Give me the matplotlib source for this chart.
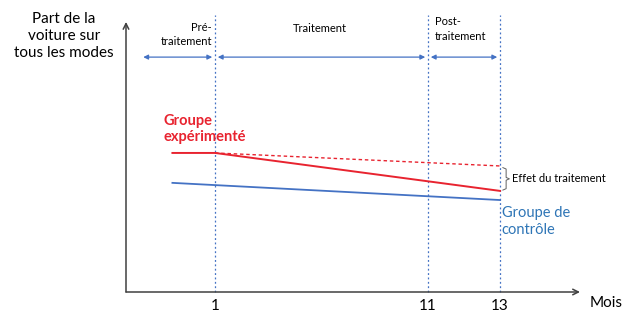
import numpy as np
import matplotlib
matplotlib.use("Agg")
import matplotlib.pyplot as plt

plt.rcParams['font.family'] = ['Lato', 'DejaVu Sans']

# schematic data (arbitrary share units, months)
months_ticks = [1, 11, 13]
tick_labels = ["1", "11", "13"]
exp_months = [-1, 1, 13]
exp_share = [50.2, 50.2, 36.5]
cf_months = [1, 13]
cf_share = [50.2, 45.5]
ctrl_months = [-1, 13]
ctrl_share = [39.4, 33.2]
periods = [(-2.5, 1, "Pré-\ntraitement"), (1, 11, "Traitement"), (11, 13, "Post-\ntraitement")]

RED = "#e8232f"
BLUE = "#4472c4"
CTRL_TXT = "#2e75b6"
AXC = "#404040"

# piecewise schematic time axis (months are not evenly spaced in the drawing)
anchor_m = np.array([-20, -3.18, 1, 11, 13, 15.22, 40])
anchor_p = np.array([-356, 0, 89, 302, 374, 454, 1304])


def fwd(m):
    return np.interp(m, anchor_m, anchor_p)


def inv(p):
    return np.interp(p, anchor_p, anchor_m)


fig = plt.figure(figsize=(6.23, 3.14), dpi=100)
ax = fig.add_axes([126 / 623, 22 / 314, 454 / 623, 277 / 314])
ax.set_xscale('function', functions=(fwd, inv))
ax.set_xlim(-3.18, 15.22)
ax.set_ylim(0, 100)
for s in ax.spines.values():
    s.set_visible(False)
ax.set_yticks([])
ax.set_xticks(months_ticks, tick_labels, fontsize=11)
ax.tick_params(axis='x', length=0, pad=5)

# axes with arrows
ax.annotate('', xy=(1, 0), xytext=(0, 0), xycoords='axes fraction',
            arrowprops=dict(arrowstyle='->', color=AXC, lw=1.1, shrinkA=0, shrinkB=0),
            annotation_clip=False)
ax.annotate('', xy=(0, 0.975), xytext=(0, 0), xycoords='axes fraction',
            arrowprops=dict(arrowstyle='->', color=AXC, lw=1.1, shrinkA=0, shrinkB=0),
            annotation_clip=False)

# period boundaries
for m in months_ticks:
    ax.plot([m, m], [0, 100], color=BLUE, ls=(0, (1.5, 2)), lw=0.9, clip_on=False)

# period arrows and labels
arrow_y = 84.8
for a, b, lab in periods:
    ax.annotate('', xy=(b, arrow_y), xytext=(a, arrow_y),
                arrowprops=dict(arrowstyle='<|-|>', color=BLUE, lw=0.9,
                                mutation_scale=7, shrinkA=2, shrinkB=2))
ax.text(0.85, 97.5, periods[0][2], ha='right', va='top', fontsize=8, linespacing=1.35)
ax.text(5.9, 95, periods[1][2], ha='center', va='center', fontsize=8)
ax.text(11.2, 99.5, periods[2][2], ha='left', va='top', fontsize=8, linespacing=1.35)

# series
ax.plot(ctrl_months, ctrl_share, color=BLUE, lw=1.3)
ax.plot(exp_months, exp_share, color=RED, lw=1.4)
ax.plot(cf_months, cf_share, color=RED, lw=1.0, ls=(0, (2.5, 2)))

ax.text(-1.4, 53.5, "Groupe\nexpérimenté", color=RED, fontsize=10.5,
        fontweight='bold', ha='left', va='bottom', linespacing=1.15)
ax.text(13.05, 31, "Groupe de\ncontrôle", color=CTRL_TXT, fontsize=10.5,
        ha='left', va='top', linespacing=1.3)

# treatment effect brace
top, bot = cf_share[1] - 0.6, exp_share[2] + 0.3
mid = (top + bot) / 2
bx = [13.08, 13.17, 13.17, 13.26, 13.17, 13.17, 13.08]
by = [top, top - 0.5, mid + 0.5, mid, mid - 0.5, bot + 0.5, bot]
ax.plot(bx, by, color="#606060", lw=0.7, clip_on=False)
ax.text(13.33, mid, "Effet du traitement", fontsize=8, ha='left', va='center')

# axis titles
fig.text(64 / 623, 1 - 36 / 314, "Part de la\nvoiture sur\ntous les modes", fontsize=11,
         ha='center', va='center', linespacing=1.3)
fig.text(590 / 623, 1 - 303 / 314, "Mois", fontsize=11, ha='left', va='center')

fig.savefig("out.png", dpi=100)
